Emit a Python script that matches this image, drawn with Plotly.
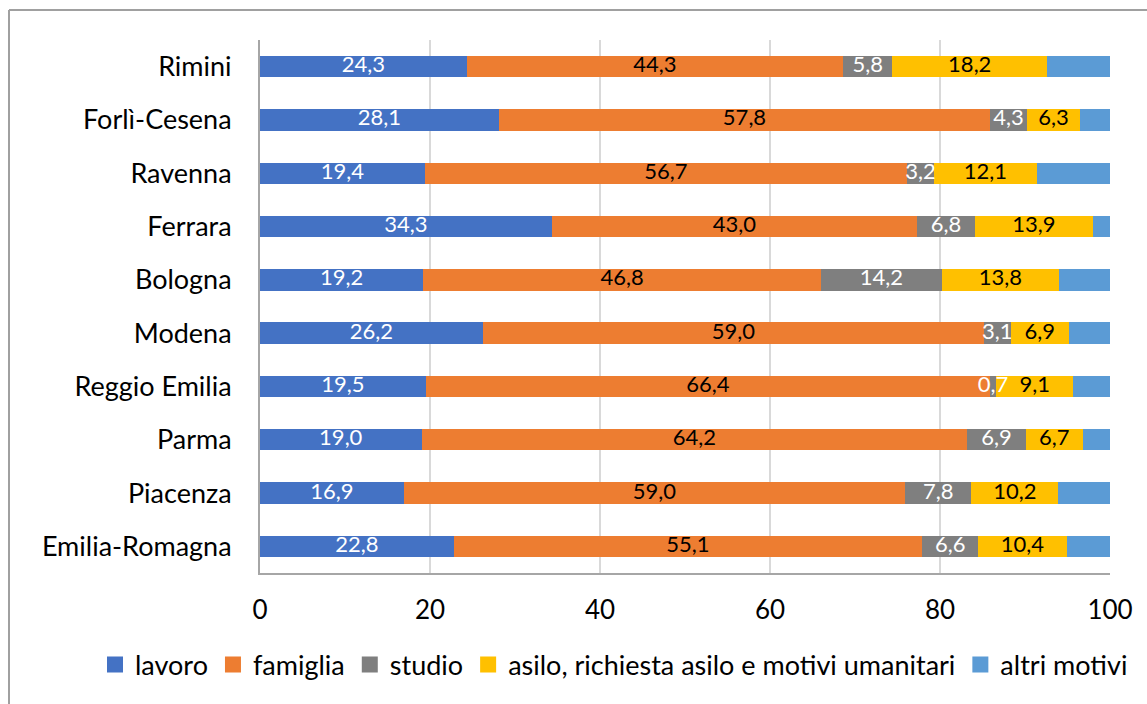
import plotly.graph_objects as go

categories = ["Emilia-Romagna", "Piacenza", "Parma", "Reggio Emilia", "Modena",
              "Bologna", "Ferrara", "Ravenna", "Forlì-Cesena", "Rimini"]
lavoro = [22.8, 16.9, 19.0, 19.5, 26.2, 19.2, 34.3, 19.4, 28.1, 24.3]
famiglia = [55.1, 59.0, 64.2, 66.4, 59.0, 46.8, 43.0, 56.7, 57.8, 44.3]
studio = [6.6, 7.8, 6.9, 0.7, 3.1, 14.2, 6.8, 3.2, 4.3, 5.8]
asilo = [10.4, 10.2, 6.7, 9.1, 6.9, 13.8, 13.9, 12.1, 6.3, 18.2]
altri = [5.1, 6.1, 3.2, 4.3, 4.8, 6.0, 2.0, 8.6, 3.5, 7.4]

series = [
    ("lavoro", lavoro, "#4472C4", "white", True),
    ("famiglia", famiglia, "#ED7D31", "black", True),
    ("studio", studio, "#7F7F7F", "white", True),
    ("asilo, richiesta asilo e motivi umanitari", asilo, "#FFC000", "black", True),
    ("altri motivi", altri, "#5B9BD5", "black", False),
]

FONT = "Lato"
fig = go.Figure()

# stacked bars
for name, vals, color, tcol, show in series:
    fig.add_trace(go.Bar(
        y=categories, x=vals, name=name, orientation="h",
        marker=dict(color=color, line=dict(width=0)),
        showlegend=False, hoverinfo="skip",
    ))

# data labels on top of all bars (centred in each segment)
base = [0.0] * len(categories)
for name, vals, color, tcol, show in series:
    mids = [b + v / 2 for b, v in zip(base, vals)]
    if show:
        fig.add_trace(go.Scatter(
            x=mids, y=categories, mode="text",
            text=[f"{v:.1f}".replace(".", ",") for v in vals],
            textposition="middle center",
            textfont=dict(color=tcol, size=22, family=FONT),
            showlegend=False, hoverinfo="skip", cliponaxis=False,
        ))
    base = [b + v for b, v in zip(base, vals)]

# legend entries (square markers)
for name, vals, color, tcol, show in series:
    fig.add_trace(go.Scatter(
        x=[None], y=[None], mode="markers", name=name,
        marker=dict(symbol="square", size=16, color=color),
        showlegend=True, hoverinfo="skip",
    ))

L, R, T, B = 260, 37, 40, 131
W, H = 1147, 704
pw, ph = W - L - R, H - T - B
bx = (9 - L) / pw
by = 1 + (T - 10) / ph

fig.update_layout(
    barmode="stack",
    bargap=0.6,
    width=W, height=H,
    margin=dict(l=L, r=R, t=T, b=B, autoexpand=False),
    paper_bgcolor="white", plot_bgcolor="white",
    font=dict(family=FONT, color="black"),
    legend=dict(orientation="h", x=(95 - L) / pw, xanchor="left",
                y=(573 - 665) / ph, yanchor="middle",
                bgcolor="rgba(0,0,0,0)",
                font=dict(size=27, family=FONT),
                traceorder="normal", itemwidth=30),
    xaxis=dict(range=[0, 100], tickvals=[0, 20, 40, 60, 80, 100],
               showgrid=True, gridcolor="#D9D9D9", gridwidth=1.5,
               showline=True, linecolor="#A6A6A6", linewidth=2,
               zeroline=False, ticks="", tickfont=dict(size=26, family=FONT),
               ticklabelstandoff=13, fixedrange=True, automargin=False),
    yaxis=dict(range=[-0.5, 9.5], showgrid=False, showline=True,
               linecolor="#A6A6A6", linewidth=2, ticks="",
               tickfont=dict(size=27, family=FONT), ticklabelstandoff=21,
               fixedrange=True, automargin=False,
               categoryorder="array", categoryarray=categories),
    shapes=[
        dict(type="line", xref="paper", yref="paper", x0=bx, x1=bx, y0=-0.5, y1=by,
             line=dict(color="#A0A0A0", width=2)),
        dict(type="line", xref="paper", yref="paper", x0=bx, x1=1.2, y0=by, y1=by,
             line=dict(color="#A0A0A0", width=2)),
    ],
)

fig.write_html("out.html")
